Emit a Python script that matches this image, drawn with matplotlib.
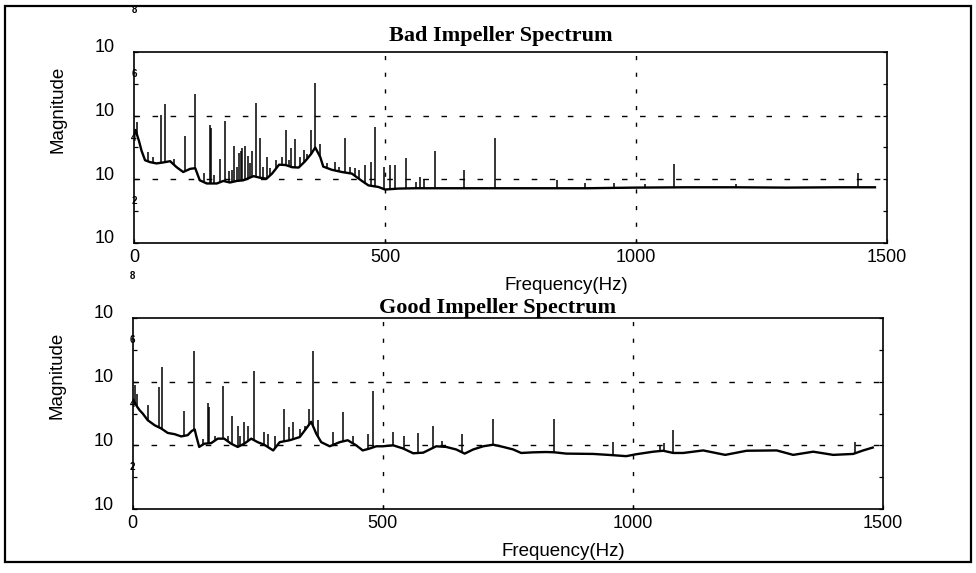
import matplotlib
matplotlib.use("Agg")
import matplotlib.pyplot as plt
import matplotlib.transforms as mtransforms
from matplotlib.patches import Rectangle
import numpy as np

# --- data (magnitudes stored as log10) ---
bad_base_freq = [0, 3, 10, 15, 22, 32, 45, 58, 72, 85, 98, 112, 122, 131, 145,
                 165, 178, 191, 205, 218, 238, 251, 264, 275, 289, 302, 315, 328,
                 341, 353, 361, 371, 377, 394, 414, 434, 454, 467, 487, 500, 527,
                 560, 600, 700, 800, 900, 1000, 1100, 1200, 1300, 1400, 1476]
bad_base_log = [5.4, 5.55, 5.2, 4.9, 4.6, 4.54, 4.5, 4.53, 4.57, 4.38, 4.23, 4.33,
                4.35, 3.97, 3.87, 3.87, 3.95, 3.9, 3.95, 3.97, 4.1, 4.05, 4.02, 4.18,
                4.46, 4.45, 4.38, 4.37, 4.57, 4.8, 5.0, 4.7, 4.4, 4.3, 4.23, 4.18,
                3.95, 3.81, 3.76, 3.68, 3.71, 3.72, 3.72, 3.72, 3.72, 3.72, 3.74,
                3.75, 3.75, 3.74, 3.75, 3.75]
bad_peak_freq = [6.6, 28, 37, 53, 61, 80, 102, 122, 140, 151, 154, 160, 172, 181,
                 190, 195, 200, 205, 210, 213, 215, 221, 228, 232, 236, 243, 250,
                 256, 264, 270, 282, 295, 302, 308, 313, 321, 330, 338, 345, 352,
                 361, 371, 385, 400, 408, 420, 430, 440, 448, 460, 472, 481, 498,
                 510, 520, 541, 561, 570, 578, 600, 658, 719, 842, 898, 957, 1018,
                 1076, 1199, 1443]
bad_peak_log = [5.8, 4.85, 4.7, 6.03, 6.38, 4.65, 5.35, 6.68, 4.2, 5.72, 5.6, 4.15,
                4.64, 5.82, 4.25, 4.3, 5.04, 4.4, 4.84, 4.9, 4.99, 5.05, 4.73, 4.5,
                4.9, 6.4, 5.3, 4.4, 4.7, 4.35, 4.6, 4.7, 5.54, 4.6, 4.98, 5.26, 4.7,
                4.93, 4.8, 5.54, 7.04, 5.1, 4.5, 4.54, 4.4, 5.3, 4.4, 4.35, 4.3,
                4.46, 4.54, 5.63, 4.4, 4.45, 4.44, 4.67, 3.93, 4.06, 4.0, 4.9, 4.3,
                5.31, 3.98, 3.88, 3.88, 3.85, 4.49, 3.86, 4.2]

good_base_freq = [0, 2, 9, 14, 20, 30, 44, 57, 70, 84, 97, 110, 118, 124, 127, 133,
                  143, 157, 170, 183, 197, 210, 223, 237, 250, 263, 281, 294, 314,
                  334, 347, 357, 367, 377, 394, 414, 430, 447, 460, 474, 487, 500,
                  521, 541, 561, 581, 607, 627, 647, 664, 681, 701, 721, 741, 761,
                  777, 801, 827, 844, 867, 921, 961, 987, 1007, 1041, 1061, 1081,
                  1101, 1141, 1185, 1228, 1288, 1321, 1361, 1401, 1441, 1461, 1480]
good_base_log = [5.45, 5.4, 5.21, 5.1, 5.0, 4.79, 4.63, 4.53, 4.39, 4.35, 4.28, 4.32,
                 4.45, 4.5, 4.3, 3.95, 4.05, 4.07, 4.21, 4.21, 4.05, 3.95, 4.05, 4.21,
                 4.1, 4.02, 3.84, 4.1, 4.16, 4.26, 4.53, 4.74, 4.37, 4.1, 3.97, 4.1,
                 4.16, 4.0, 3.84, 3.9, 3.97, 3.97, 4.0, 3.9, 3.75, 3.77, 3.97, 3.95,
                 3.87, 3.74, 3.87, 3.97, 4.02, 3.95, 3.87, 3.76, 3.78, 3.79, 3.78,
                 3.74, 3.73, 3.69, 3.66, 3.72, 3.8, 3.83, 3.76, 3.76, 3.84, 3.7, 3.83,
                 3.84, 3.7, 3.8, 3.7, 3.73, 3.84, 3.93]
good_peak_freq = [5, 8, 30, 52, 59, 102, 122, 140, 151, 153, 165, 181, 190, 199,
                  210, 215, 222, 230, 242, 262, 271, 285, 302, 313, 321, 335, 345,
                  352, 361, 371, 401, 421, 440, 471, 481, 520, 543, 571, 601, 619,
                  659, 721, 843, 960, 1055, 1063, 1080, 1445]
good_peak_log = [5.9, 5.6, 5.28, 5.84, 6.47, 5.07, 6.97, 4.2, 5.34, 5.2, 4.3, 5.86,
                 4.3, 4.92, 4.6, 4.3, 4.74, 4.6, 6.34, 4.42, 4.35, 4.3, 5.14, 4.58,
                 4.74, 4.5, 4.6, 5.13, 6.95, 4.81, 4.42, 5.05, 4.3, 4.35, 5.72, 4.42,
                 4.3, 4.4, 4.6, 4.13, 4.37, 4.82, 4.84, 4.11, 4.0, 4.07, 4.47, 4.1]

x_ticks = [0, 500, 1000, 1500]
y_exponents = [2, 4, 6, 8]

SANS = "Liberation Sans"
SERIF = "Liberation Serif"


def draw_spectrum(ax, base_f, base_log, peak_f, peak_log, title, title_pad):
    base_f = np.asarray(base_f, dtype=float)
    base_log = np.asarray(base_log, dtype=float)
    peak_f = np.asarray(peak_f, dtype=float)
    peak_log = np.asarray(peak_log, dtype=float)

    ax.plot(base_f, 10 ** base_log, color="black", lw=1.7)
    foot = np.interp(peak_f, base_f, base_log)
    ax.vlines(peak_f, 10 ** foot, 10 ** peak_log, color="black", lw=1.1)

    ax.set_yscale("log")
    ax.set_xlim(0, 1500)
    ax.set_ylim(1e2, 1e8)

    ax.set_xticks(x_ticks)
    ax.set_xticklabels([str(t) for t in x_ticks], fontfamily=SANS, fontsize=13)
    ax.set_yticks([10.0 ** e for e in y_exponents])
    ax.set_yticks([1e3, 1e5, 1e7], minor=True)
    ax.set_yticklabels(["10"] * len(y_exponents), fontfamily=SANS, fontsize=13)
    ax.yaxis.set_minor_formatter(plt.NullFormatter())
    ax.tick_params(axis="both", which="both", direction="in", length=3,
                   right=True, top=False, width=0.9)
    ax.tick_params(axis="y", which="major", pad=14)
    ax.tick_params(axis="x", which="major", pad=4)

    # scanned-style labels: "10" sits a bit above the tick, exponent drifts higher
    shift = mtransforms.ScaledTranslation(0, 6 / 100, ax.figure.dpi_scale_trans)
    for lab in ax.get_yticklabels():
        lab.set_transform(lab.get_transform() + shift)
    for e in y_exponents:
        ax.annotate(str(e), xy=(0, 10.0 ** e), xycoords=("axes fraction", "data"),
                    xytext=(0, 30), textcoords="offset points", ha="center",
                    va="center", fontsize=7, fontweight="bold", fontfamily=SANS,
                    annotation_clip=False)

    for v in [500, 1000]:
        ax.axvline(v, color="black", lw=1.0, ls=(0, (3, 9)))
    for v in [1e4, 1e6]:
        ax.axhline(v, color="black", lw=1.0, ls=(0, (4, 9)))

    for sp in ax.spines.values():
        sp.set_linewidth(1.2)

    ax.set_title(title, fontfamily=SERIF, fontweight="bold", fontsize=16,
                 pad=title_pad, x=0.487)
    ax.set_ylabel("Magnitude", fontfamily=SANS, fontsize=13.5)
    ax.yaxis.set_label_coords(-0.089, 0.70)
    ax.set_xlabel("Frequency(Hz)", fontfamily=SANS, fontsize=13.5)
    ax.xaxis.set_label_coords(0.574, -0.178)


def main() -> None:
    fig = plt.figure(figsize=(9.76, 5.73), dpi=100)

    ax_bad = fig.add_axes([134 / 976, 1 - 243 / 573, 753 / 976, 191 / 573])
    ax_good = fig.add_axes([132.7 / 976, 1 - 509 / 573, 750 / 976, 191 / 573])

    draw_spectrum(ax_bad, bad_base_freq, bad_base_log, bad_peak_freq, bad_peak_log,
                  "Bad Impeller Spectrum", 8)
    draw_spectrum(ax_good, good_base_freq, good_base_log, good_peak_freq,
                  good_peak_log, "Good Impeller Spectrum", 1)

    fig.patches.append(Rectangle((5 / 976, 1 - 562 / 573), 966 / 976, 556 / 573,
                                 transform=fig.transFigure, fill=False,
                                 edgecolor="black", lw=1.6))

    fig.savefig("out.png", dpi=100)
    plt.close(fig)


if __name__ == "__main__":
    main()
